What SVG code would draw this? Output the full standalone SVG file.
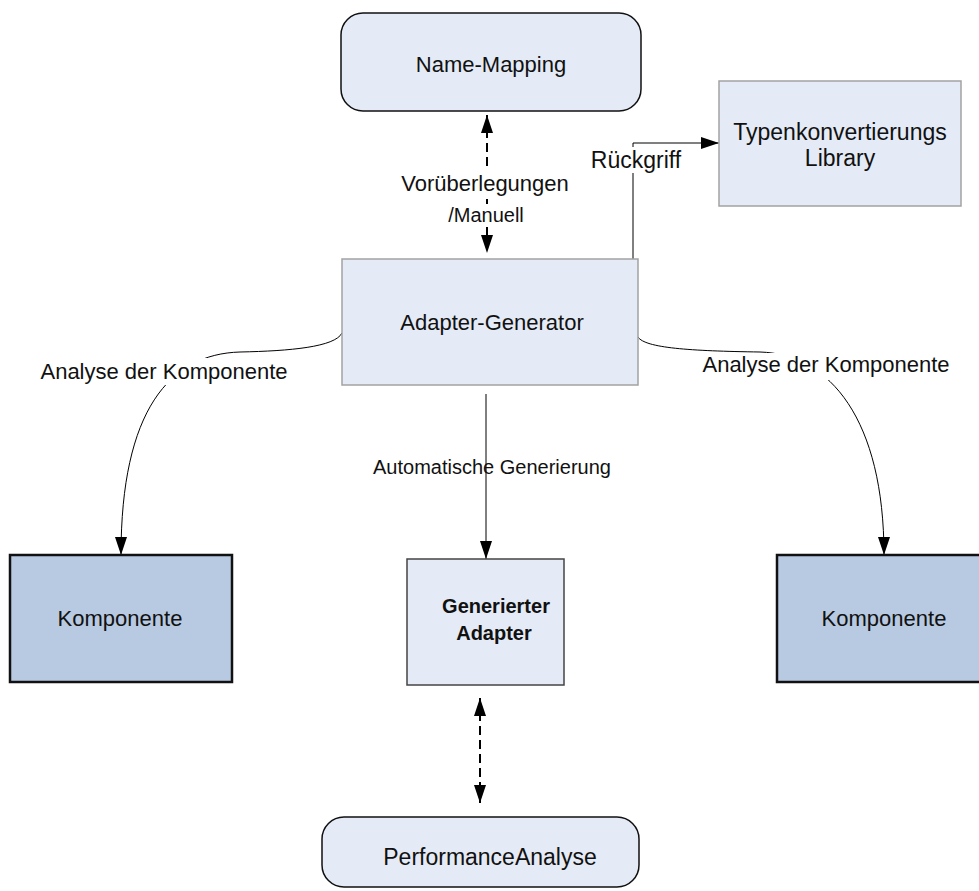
<svg xmlns="http://www.w3.org/2000/svg" width="979" height="891" viewBox="0 0 979 891">
  <defs>
    <marker id="head" markerUnits="userSpaceOnUse" markerWidth="18" markerHeight="12" refX="18" refY="6" orient="auto-start-reverse">
      <path d="M0,0 L18,6 L0,12 z" fill="#000"/>
    </marker>
    <style>
      text { font-family: "Liberation Sans", Arial, sans-serif; fill: #111; text-anchor: middle; }
      .t22 { font-size: 22px; }
      .t23 { font-size: 23px; }
      .t20 { font-size: 20px; }
      .bold { font-size: 20px; font-weight: bold; }
      .light { fill: #E5EBF6; stroke: #A2A2A2; stroke-width: 1.5; }
      .round { fill: #E5EBF6; stroke: #111; stroke-width: 1.5; }
      .comp { fill: #B8C9E2; stroke: #111; stroke-width: 2.5; }
      .gen { fill: #E5EBF6; stroke: #444; stroke-width: 1.5; }
      .solid { fill: none; stroke: #000; stroke-width: 1; }
      .dashed { fill: none; stroke: #000; stroke-width: 2; stroke-dasharray: 9 5; }
      .labelbg { fill: #fff; }
    </style>
  </defs>
  <rect width="979" height="891" fill="#fff"/>

  <!-- connectors -->
  <g id="connectors">
    <!-- Name-Mapping <-> Adapter-Generator -->
    <path class="dashed" d="M487,115 V253" marker-start="url(#head)" marker-end="url(#head)"/>
    <!-- Adapter-Generator -> Typenkonvertierungs Library -->
    <path class="solid" d="M633,259 V143 H719" marker-end="url(#head)"/>
    <!-- Adapter-Generator -> left Komponente -->
    <path class="solid" d="M342,333 C335,347 290,351 240,352 C170,354 121,410 121,555" marker-end="url(#head)"/>
    <!-- Adapter-Generator -> right Komponente -->
    <path class="solid" d="M638,337 C645,348 690,351 760,352 C830,354 884,420 884,555" marker-end="url(#head)"/>
    <!-- Adapter-Generator -> Generierter Adapter -->
    <path class="solid" d="M486,394 V559" marker-end="url(#head)"/>
    <!-- Generierter Adapter <-> PerformanceAnalyse -->
    <path class="dashed" d="M480,698 V803" marker-start="url(#head)" marker-end="url(#head)"/>

    <!-- connector labels -->
    <rect class="labelbg" x="400" y="170" width="170" height="26"/>
    <text class="t22" x="485" y="191">Vorüberlegungen</text>
    <rect class="labelbg" x="446" y="204" width="80" height="23"/>
    <text class="t20" x="486" y="222">/Manuell</text>

    <rect class="labelbg" x="588" y="147" width="96" height="26"/>
    <text class="t23" x="636" y="168">Rückgriff</text>

    <rect class="labelbg" x="38" y="358" width="252" height="27"/>
    <text class="t22" x="164" y="379">Analyse der Komponente</text>

    <rect class="labelbg" x="701" y="353" width="251" height="27"/>
    <text class="t22" x="826" y="372">Analyse der Komponente</text>

    <text class="t20" x="492" y="474">Automatische Generierung</text>
  </g>

  <!-- nodes -->
  <g id="name-mapping">
    <rect class="round" x="341" y="13" width="300" height="98" rx="22" ry="22"/>
    <text class="t22" x="491" y="72">Name-Mapping</text>
  </g>

  <g id="typen-library">
    <rect class="light" x="719" y="81" width="242" height="125"/>
    <text class="t23" x="840" y="140">Typenkonvertierungs</text>
    <text class="t23" x="840" y="166">Library</text>
  </g>

  <g id="adapter-generator">
    <rect class="light" x="342" y="259" width="296" height="126"/>
    <text class="t22" x="492" y="330">Adapter-Generator</text>
  </g>

  <g id="komponente-left">
    <rect class="comp" x="10" y="555" width="222" height="127"/>
    <text class="t22" x="120" y="626">Komponente</text>
  </g>

  <g id="generierter-adapter">
    <rect class="gen" x="407" y="559" width="157" height="126"/>
    <text class="bold" x="496" y="613">Generierter</text>
    <text class="bold" x="494" y="640">Adapter</text>
  </g>

  <g id="komponente-right">
    <rect class="comp" x="777" y="555" width="222" height="127"/>
    <text class="t22" x="884" y="626">Komponente</text>
  </g>

  <g id="performance-analyse">
    <rect class="round" x="322" y="817" width="317" height="70" rx="22" ry="22"/>
    <text class="t23" x="490" y="865">PerformanceAnalyse</text>
  </g>
</svg>
